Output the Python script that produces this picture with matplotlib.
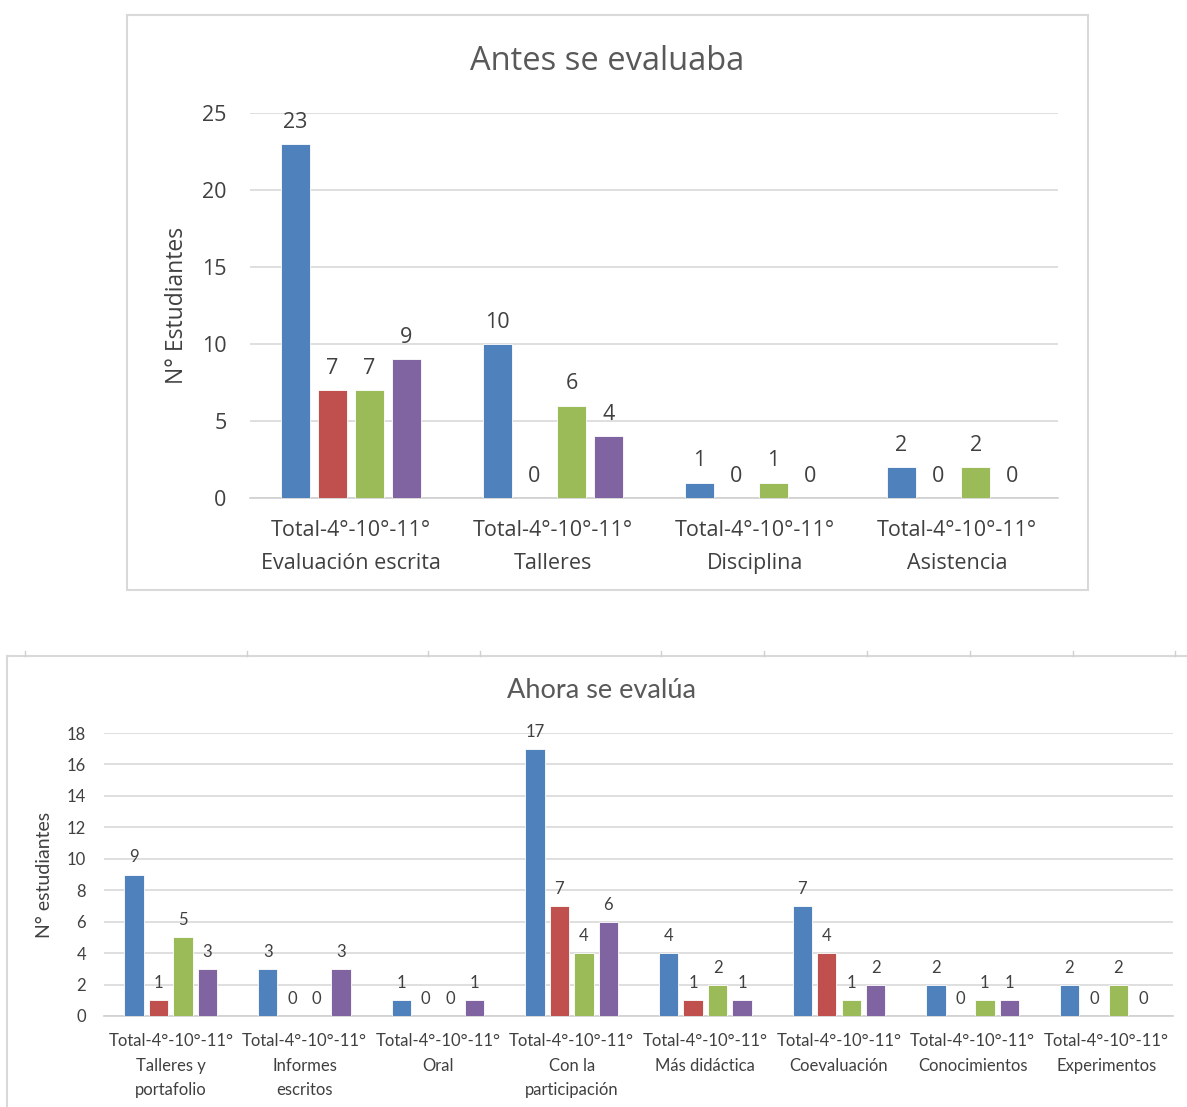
import matplotlib.pyplot as plt
from matplotlib.lines import Line2D
from matplotlib.patches import Rectangle
import numpy as np

# colores de las series (Total, 4°, 10°, 11°)
series = ['Total', '4°', '10°', '11°']
colors = ['#4F81BD', '#C0504D', '#9BBB59', '#8064A2']

# Antes se evaluaba
antes_cats = ['Total-4°-10°-11°\nEvaluación escrita', 'Total-4°-10°-11°\nTalleres',
              'Total-4°-10°-11°\nDisciplina', 'Total-4°-10°-11°\nAsistencia']
antes_total = [23, 10, 1, 2]
antes_4 = [7, 0, 0, 0]
antes_10 = [7, 6, 1, 2]
antes_11 = [9, 4, 0, 0]

# Ahora se evalúa
ahora_cats = ['Total-4°-10°-11°\nTalleres y\nportafolio', 'Total-4°-10°-11°\nInformes\nescritos',
              'Total-4°-10°-11°\nOral', 'Total-4°-10°-11°\nCon la\nparticipación',
              'Total-4°-10°-11°\nMás didáctica', 'Total-4°-10°-11°\nCoevaluación',
              'Total-4°-10°-11°\nConocimientos', 'Total-4°-10°-11°\nExperimentos']
ahora_total = [9, 3, 1, 17, 4, 7, 2, 2]
ahora_4 = [1, 0, 0, 7, 1, 4, 0, 0]
ahora_10 = [5, 0, 0, 4, 2, 1, 1, 2]
ahora_11 = [3, 3, 1, 6, 1, 2, 1, 0]

W, H = 1187, 1107
fig = plt.figure(figsize=(W / 100, H / 100), dpi=100)


def box(x0, y0, x1, y1):
    # pixeles (origen arriba a la izquierda) -> fracción de figura
    return [x0 / W, 1 - y1 / H, (x1 - x0) / W, (y1 - y0) / H]


def grouped(ax, cats, data, ymax, step, font, fs, lab_off, ls):
    x = np.arange(len(cats))
    offs = [-0.275, -0.092, 0.092, 0.275]
    for vals, c, o, name in zip(data, colors, offs, series):
        bars = ax.bar(x + o, vals, 0.145, color=c, edgecolor='white', linewidth=0.6, label=name, zorder=3)
        for b, v in zip(bars, vals):
            ax.annotate(str(v), (b.get_x() + b.get_width() / 2, v), xytext=(0, lab_off),
                        textcoords='offset points', ha='center', va='bottom',
                        fontsize=fs, family=font, color='#404040')
    ax.set_xlim(-0.5, len(cats) - 0.5)
    ax.set_ylim(0, ymax)
    ax.set_yticks(np.arange(0, ymax + 1, step))
    ax.set_xticks(x)
    ax.set_xticklabels(cats, fontsize=fs, family=font, color='#404040', linespacing=ls)
    for t in ax.get_yticklabels():
        t.set_fontsize(fs)
        t.set_family(font)
        t.set_color('#404040')
    ax.grid(axis='y', color='#d9d9d9', linewidth=1.2, zorder=0)
    for s in ['top', 'right', 'left']:
        ax.spines[s].set_visible(False)
    ax.spines['bottom'].set_color('#d0d0d0')
    ax.spines['bottom'].set_linewidth(1.2)
    ax.tick_params(length=0)


# gráfico superior
ax1 = fig.add_axes(box(250, 113, 1058, 498))
grouped(ax1, antes_cats, [antes_total, antes_4, antes_10, antes_11], 25, 5,
        'Open Sans', 15.5, 8, 1.75)
ax1.tick_params(axis='x', pad=16)
ax1.tick_params(axis='y', pad=17)
ax1.set_ylabel('N° Estudiantes', fontsize=16.5, family='Open Sans', color='#404040')
ax1.yaxis.set_label_coords(-0.0755, 0.5)
fig.text(607 / W, 1 - 62 / H, 'Antes se evaluaba', ha='center', va='center',
         fontsize=23.5, family='Open Sans', color='#595959')
fig.add_artist(Rectangle(box(127, 15, 1088, 590)[:2], *box(127, 15, 1088, 590)[2:],
                         transform=fig.transFigure, fill=False, edgecolor='#d9d9d9', linewidth=1.5))

# gráfico inferior
ax2 = fig.add_axes(box(104, 733, 1173, 1016))
grouped(ax2, ahora_cats, [ahora_total, ahora_4, ahora_10, ahora_11], 18, 2,
        'Lato', 12, 6.5, 1.68)
ax2.tick_params(axis='x', pad=12)
ax2.tick_params(axis='y', pad=13)
ax2.set_ylabel('N° estudiantes', fontsize=14, family='Lato', color='#404040')
ax2.yaxis.set_label_coords(-0.048, 0.5)
fig.text(602 / W, 1 - 691 / H, 'Ahora se evalúa', ha='center', va='center',
         fontsize=19.5, family='Lato', color='#595959')

# marco abierto del gráfico inferior
fig.add_artist(Line2D([7 / W, 1], [1 - 656 / H] * 2, transform=fig.transFigure,
                      color='#d9d9d9', linewidth=1.5))
fig.add_artist(Line2D([7 / W] * 2, [0, 1 - 656 / H], transform=fig.transFigure,
                      color='#d9d9d9', linewidth=1.5))
for px in [25, 247, 428, 480, 661, 764, 867, 970, 1073, 1175]:
    fig.add_artist(Line2D([px / W] * 2, [1 - 656 / H, 1 - 651 / H], transform=fig.transFigure,
                          color='#d0d0d0', linewidth=1))

fig.savefig('out.png', dpi=100, facecolor='white')
